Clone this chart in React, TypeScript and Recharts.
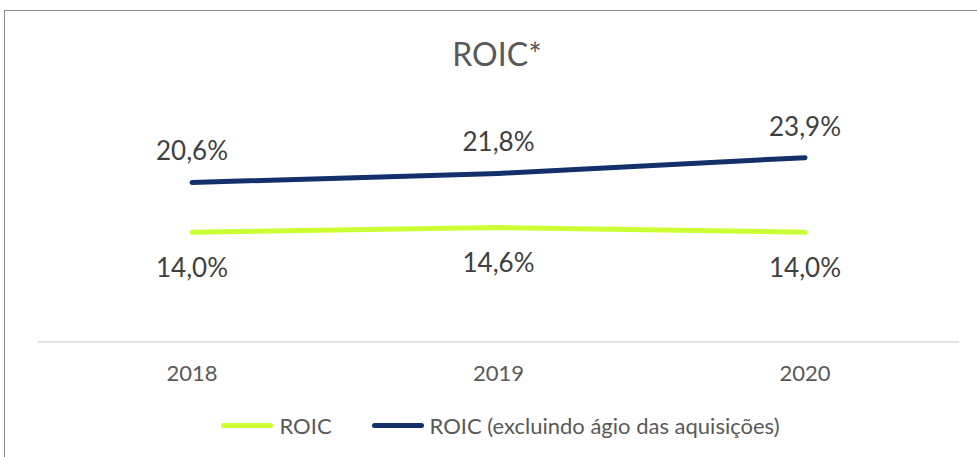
import { LineChart, Line, XAxis, YAxis, Legend, LabelList } from 'recharts';

const years = ['2018', '2019', '2020'];
const roic = [14.0, 14.6, 14.0];
const roicExAgio = [20.6, 21.8, 23.9];

const series = [
    { key: 'roic', name: 'ROIC', color: '#ccff33' },
    { key: 'roicExAgio', name: 'ROIC (excluindo ágio das aquisições)', color: '#13306b' },
];

const data = years.map((year, i) => ({ year, roic: roic[i], roicExAgio: roicExAgio[i] }));

const fmt = (v: any) => `${Number(v).toFixed(1).replace('.', ',')}%`;

const FONT = 'Lato, "Open Sans", sans-serif';

function LegendContent() {
    return (
        <div style={{ display: 'flex', justifyContent: 'center', alignItems: 'center', fontFamily: FONT, fontSize: 22, color: '#595959' }}>
            {series.map((s, i) => (
                <div key={s.key} style={{ display: 'flex', alignItems: 'center', marginLeft: i ? 40 : 0 }}>
                    <span style={{ display: 'inline-block', width: 52, height: 5, borderRadius: 3, background: s.color, marginRight: 6 }} />
                    <span>{s.name}</span>
                </div>
            ))}
        </div>
    );
}

export default function App() {
    return (
        <div style={{ position: 'absolute', left: 0, top: 0, width: 977, height: 457, background: '#fff' }}>
            <div style={{ position: 'absolute', left: 4, top: 10, width: 990, height: 460, border: '1px solid #8c8c8c' }} />
            <div style={{ position: 'absolute', left: 0, top: 34, width: 994, textAlign: 'center', fontFamily: FONT, fontSize: 32, color: '#595959' }}>
                ROIC*
            </div>
            <LineChart width={977} height={457} data={data} margin={{ top: 114, right: 18, left: 38, bottom: 0 }} style={{ position: 'absolute', left: 0, top: 0 }}>
                <XAxis
                    dataKey="year"
                    axisLine={{ stroke: '#d9d9d9', strokeWidth: 1.5 }}
                    tickLine={false}
                    tick={{ fontFamily: FONT, fontSize: 22, fill: '#595959' }}
                    tickMargin={17}
                    height={88}
                    padding={{ left: 154, right: 154 }}
                />
                <YAxis hide domain={[-0.6, 29.7]} />
                <Legend verticalAlign="bottom" content={<LegendContent />} wrapperStyle={{ position: 'absolute', top: 412, left: 12, width: 977 }} />
                {series.map((s, i) => (
                    <Line
                        key={s.key}
                        dataKey={s.key}
                        name={s.name}
                        stroke={s.color}
                        strokeWidth={5}
                        strokeLinecap="round"
                        dot={false}
                        type="linear"
                        isAnimationActive={false}
                    >
                        <LabelList
                            dataKey={s.key}
                            position={i === 0 ? 'bottom' : 'top'}
                            offset={i === 0 ? 26 : 22}
                            formatter={fmt}
                            style={{ fontFamily: FONT, fontSize: 26, fill: '#404040' }}
                        />
                    </Line>
                ))}
            </LineChart>
        </div>
    );
}
